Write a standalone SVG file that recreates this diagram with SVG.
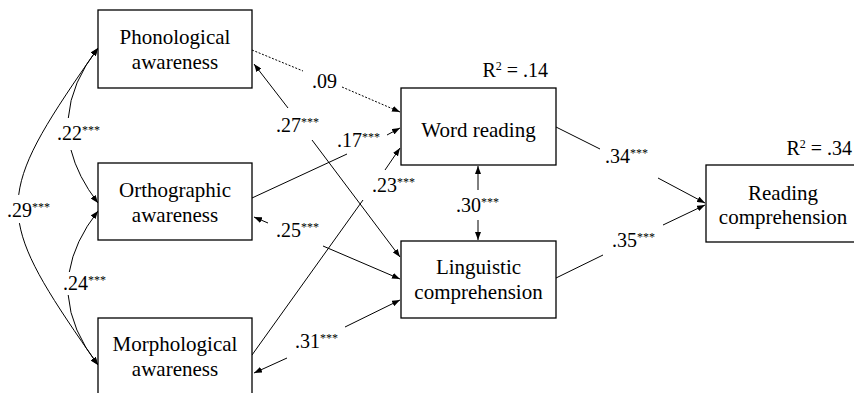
<svg xmlns="http://www.w3.org/2000/svg" width="854" height="393" viewBox="0 0 854 393">
<style>
.box{fill:#fff;stroke:#000;stroke-width:1.3}
.nt{font-family:"Liberation Serif","Times New Roman",serif;font-size:21px;fill:#000;text-anchor:middle}
.lb{font-family:"Liberation Serif","Times New Roman",serif;font-size:20px;fill:#000}
.r2{text-anchor:end}
.sup{font-size:12px}
.ln{fill:none;stroke:#000;stroke-width:1}
.dot{stroke-dasharray:2 1.6}
</style>
<defs>
<marker id="ah" viewBox="0 0 8 6" refX="8" refY="3" markerWidth="8" markerHeight="6" markerUnits="userSpaceOnUse" orient="auto-start-reverse">
<path d="M0,0 L8,3 L0,6 z" fill="#000"/>
</marker>
</defs>
<rect width="854" height="393" fill="#fff"/>

<g id="connectors">
<path class="ln" d="M98,48 Q70.9,82.8 68.3,118" marker-start="url(#ah)"/>
<path class="ln" d="M71,150 Q77.5,176.3 98,203" marker-end="url(#ah)"/>
<path class="ln" d="M98,211 Q74.2,241.5 69.3,272" marker-start="url(#ah)"/>
<path class="ln" d="M68.2,295 Q70.7,330 98,365" marker-end="url(#ah)"/>
<path class="ln" d="M98,48 C49.7,117.3 23.3,157.5 18.7,194.9" marker-start="url(#ah)"/>
<path class="ln" d="M19.4,223.1 C25.6,259.1 51.8,298.8 98,365" marker-end="url(#ah)"/>
<path class="ln dot" d="M252,50 L303,71"/>
<path class="ln dot" d="M342,87 L400,112" marker-end="url(#ah)"/>
<path class="ln" d="M254,64 L288,108" marker-start="url(#ah)"/>
<path class="ln" d="M312,140 L400,257" marker-end="url(#ah)"/>
<path class="ln" d="M252,198 L347,154"/>
<path class="ln" d="M387,135 L400,128" marker-end="url(#ah)"/>
<path class="ln" d="M254,217 L268,223" marker-start="url(#ah)"/>
<path class="ln" d="M323,246 L400,279" marker-end="url(#ah)"/>
<path class="ln" d="M252,355 L363,200"/>
<path class="ln" d="M385,170 L400,148" marker-end="url(#ah)"/>
<path class="ln" d="M254,373 L287,358" marker-start="url(#ah)"/>
<path class="ln" d="M345,327 L400,300" marker-end="url(#ah)"/>
<path class="ln" d="M478,166 L478,190" marker-start="url(#ah)"/>
<path class="ln" d="M478,220 L478,240" marker-end="url(#ah)"/>
<path class="ln" d="M556,127 L600,149"/>
<path class="ln" d="M658,178 L705,203" marker-end="url(#ah)"/>
<path class="ln" d="M556,278 L603,255"/>
<path class="ln" d="M663,225 L705,205" marker-end="url(#ah)"/>

<text class="lb" x="57" y="140">.22<tspan class="sup" dy="-6">***</tspan></text>
<text class="lb" x="63" y="290">.24<tspan class="sup" dy="-6">***</tspan></text>
<text class="lb" x="7" y="217">.29<tspan class="sup" dy="-6">***</tspan></text>
<text class="lb" x="312" y="88">.09</text>
<text class="lb" x="276" y="132">.27<tspan class="sup" dy="-6">***</tspan></text>
<text class="lb" x="337" y="147">.17<tspan class="sup" dy="-6">***</tspan></text>
<text class="lb" x="372" y="192">.23<tspan class="sup" dy="-6">***</tspan></text>
<text class="lb" x="456" y="212">.30<tspan class="sup" dy="-6">***</tspan></text>
<text class="lb" x="276" y="237">.25<tspan class="sup" dy="-6">***</tspan></text>
<text class="lb" x="295" y="348">.31<tspan class="sup" dy="-6">***</tspan></text>
<text class="lb" x="605" y="163">.34<tspan class="sup" dy="-6">***</tspan></text>
<text class="lb" x="612" y="247">.35<tspan class="sup" dy="-6">***</tspan></text>
</g>

<g id="phonological">
<rect class="box" x="98" y="10" width="154" height="78"/>
<text class="nt" x="175" y="44">Phonological</text>
<text class="nt" x="175" y="69">awareness</text>
</g>
<g id="orthographic">
<rect class="box" x="98" y="163" width="154" height="77"/>
<text class="nt" x="175" y="196.5">Orthographic</text>
<text class="nt" x="175" y="221.5">awareness</text>
</g>
<g id="morphological">
<rect class="box" x="98" y="318" width="154" height="78"/>
<text class="nt" x="175" y="351">Morphological</text>
<text class="nt" x="175" y="376">awareness</text>
</g>
<g id="word-reading">
<rect class="box" x="401" y="88" width="155" height="77"/>
<text class="nt" x="478.5" y="136.5">Word reading</text>
<text class="lb r2" x="548" y="77">R<tspan class="sup" dy="-7">2</tspan><tspan dy="7"> = .14</tspan></text>
</g>
<g id="linguistic-comprehension">
<rect class="box" x="401" y="241" width="155" height="77"/>
<text class="nt" x="478.5" y="274">Linguistic</text>
<text class="nt" x="478.5" y="299">comprehension</text>
</g>
<g id="reading-comprehension">
<rect class="box" x="706" y="165" width="154" height="77"/>
<text class="nt" x="783" y="199.5">Reading</text>
<text class="nt" x="783" y="224">comprehension</text>
<text class="lb r2" x="852" y="155">R<tspan class="sup" dy="-7">2</tspan><tspan dy="7"> = .34</tspan></text>
</g>
</svg>
